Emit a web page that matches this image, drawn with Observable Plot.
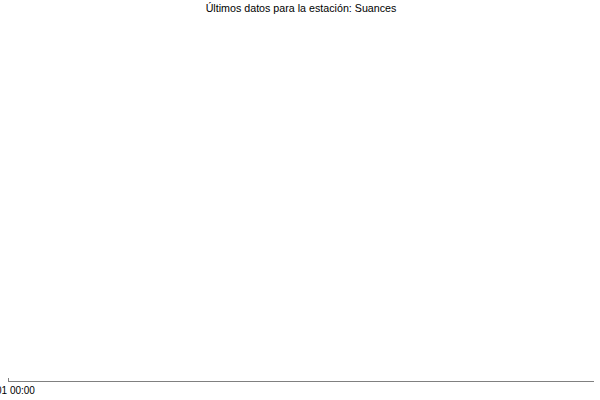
<!DOCTYPE html>
<html><head><meta charset="utf-8">
<script src="https://cdn.jsdelivr.net/npm/d3@7"></script>
<script src="https://cdn.jsdelivr.net/npm/@observablehq/plot@0.6"></script>
<style>body{margin:0;background:#fff} svg{display:block}</style>
</head><body><div id="chart"></div>
<script>
const titleText = ["Últimos datos para la estación: Suances"];
const tickTimes = [new Date(Date.UTC(2024, 0, 1, 0, 0))];
const tickLabels = ["01/01 00:00"];
const domainEnd = new Date(Date.UTC(2024, 0, 2, 0, 0));
const seriesTimes = [];
const seriesValues = [];
const data = seriesTimes.map((t, i) => ({t, v: seriesValues[i]}));
const fmt = d => tickLabels[tickTimes.findIndex(t => +t === +d)];
const chart = Plot.plot({
  width: 600, height: 400,
  marginTop: 20, marginBottom: 19, marginLeft: 8, marginRight: 7,
  style: {fontFamily: "'Liberation Sans', Arial, sans-serif", fontSize: "10px", background: "#fff", color: "#000"},
  x: {type: "utc", domain: [tickTimes[0], domainEnd], label: null},
  y: {domain: [0, 1], axis: null},
  marks: [
    Plot.line(data, {x: "t", y: "v", stroke: "#1f77b4"}),
    Plot.frame({anchor: "bottom", stroke: "#808080"}),
    Plot.axisX(tickTimes, {tickSize: 3, dy: -3, tickFormat: () => "", label: null, stroke: "#808080", strokeOpacity: 1}),
    Plot.axisX(tickTimes, {tickSize: 0, tickPadding: 5, tickFormat: fmt, label: null, fill: "#000"}),
    Plot.text(titleText, {frameAnchor: "top", dy: -16, fontSize: 10.7, fill: "#000"})
  ]
});
document.getElementById("chart").appendChild(chart);
</script>
</body></html>
